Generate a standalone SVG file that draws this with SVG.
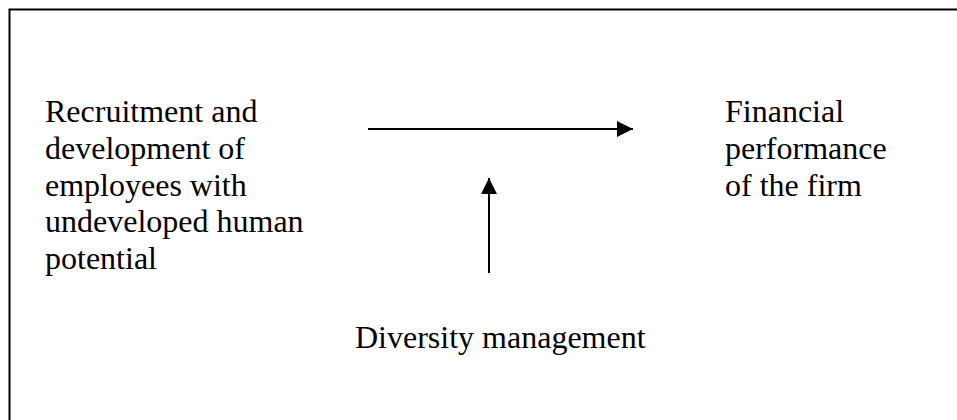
<svg xmlns="http://www.w3.org/2000/svg" width="957" height="420" viewBox="0 0 957 420">
  <defs>
    <style>
      .label { font-family: "Liberation Serif", "Times New Roman", serif; font-size: 32px; fill: #000; }
      .conn { stroke: #000; stroke-width: 2; fill: none; }
    </style>
    <marker id="arrow" viewBox="0 0 16 16" refX="16" refY="8" markerWidth="16" markerHeight="16" markerUnits="userSpaceOnUse" orient="auto">
      <path d="M0,0 L16,8 L0,16 Z" fill="#000"/>
    </marker>
  </defs>
  <rect x="0" y="0" width="957" height="420" fill="#fff"/>
  <!-- frame; continues past the right and bottom edges -->
  <path d="M9.5,430 L9.5,9.5 L970,9.5" stroke="#000" stroke-width="2" fill="none"/>

  <g id="recruitment">
    <text class="label" x="45" y="122">Recruitment and</text>
    <text class="label" x="45" y="159">development of</text>
    <text class="label" x="45" y="196">employees with</text>
    <text class="label" x="45" y="232">undeveloped human</text>
    <text class="label" x="45" y="269">potential</text>
  </g>

  <g id="performance">
    <text class="label" x="725" y="122">Financial</text>
    <text class="label" x="725" y="159">performance</text>
    <text class="label" x="725" y="196">of the firm</text>
  </g>

  <g id="diversity">
    <text class="label" x="355" y="348">Diversity management</text>
  </g>

  <g id="connectors">
    <line class="conn" x1="368" y1="129" x2="633" y2="129" marker-end="url(#arrow)"/>
    <line class="conn" x1="489" y1="273" x2="489" y2="178" marker-end="url(#arrow)"/>
  </g>
</svg>
